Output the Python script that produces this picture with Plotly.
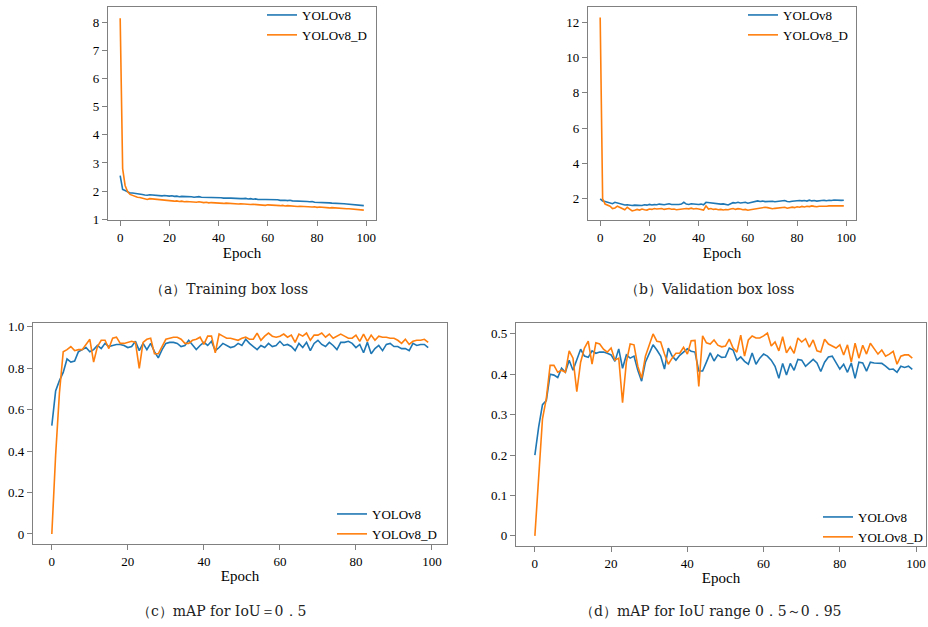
import plotly.graph_objects as go

epochs = list(range(100))

train_v8 = [2.55, 2.06, 2.02, 1.98, 1.93, 1.93, 1.92, 1.92, 1.90, 1.88,
            1.86, 1.85, 1.87, 1.86, 1.84, 1.85, 1.84, 1.83, 1.84, 1.82,
            1.82, 1.83, 1.81, 1.82, 1.80, 1.81, 1.81, 1.80, 1.79, 1.80,
            1.78, 1.79, 1.80, 1.78, 1.78, 1.77, 1.78, 1.77, 1.76, 1.77,
            1.76, 1.76, 1.75, 1.76, 1.75, 1.75, 1.74, 1.75, 1.74, 1.73,
            1.73, 1.74, 1.72, 1.73, 1.71, 1.72, 1.70, 1.71, 1.70, 1.70,
            1.70, 1.69, 1.69, 1.68, 1.69, 1.67, 1.68, 1.67, 1.66, 1.67,
            1.65, 1.65, 1.64, 1.65, 1.63, 1.64, 1.63, 1.62, 1.63, 1.60,
            1.60, 1.60, 1.59, 1.59, 1.58, 1.58, 1.57, 1.57, 1.56, 1.56,
            1.55, 1.55, 1.54, 1.53, 1.53, 1.52, 1.51, 1.50, 1.49, 1.48]
train_v8d = [8.15, 2.80, 2.20, 1.98, 1.88, 1.84, 1.80, 1.78, 1.77, 1.75,
             1.73, 1.70, 1.73, 1.72, 1.70, 1.69, 1.68, 1.68, 1.67, 1.66,
             1.64, 1.65, 1.64, 1.65, 1.63, 1.64, 1.62, 1.63, 1.62, 1.60,
             1.61, 1.60, 1.62, 1.60, 1.59, 1.60, 1.58, 1.59, 1.58, 1.57,
             1.58, 1.57, 1.56, 1.57, 1.56, 1.55, 1.56, 1.55, 1.54, 1.55,
             1.54, 1.53, 1.54, 1.52, 1.53, 1.52, 1.51, 1.52, 1.50, 1.49,
             1.51, 1.50, 1.49, 1.50, 1.49, 1.48, 1.49, 1.47, 1.48, 1.47,
             1.46, 1.47, 1.45, 1.46, 1.45, 1.44, 1.45, 1.44, 1.43, 1.44,
             1.42, 1.43, 1.42, 1.41, 1.42, 1.40, 1.41, 1.40, 1.39, 1.40,
             1.38, 1.38, 1.37, 1.37, 1.36, 1.35, 1.35, 1.34, 1.33, 1.32]

val_v8 = [2.00, 1.88, 1.85, 1.82, 1.78, 1.72, 1.80, 1.76, 1.72, 1.68,
          1.65, 1.66, 1.63, 1.62, 1.64, 1.63, 1.65, 1.62, 1.66, 1.64,
          1.68, 1.65, 1.67, 1.66, 1.70, 1.68, 1.66, 1.69, 1.72, 1.68,
          1.67, 1.70, 1.68, 1.70, 1.80, 1.70, 1.68, 1.72, 1.70, 1.69,
          1.68, 1.70, 1.66, 1.80, 1.78, 1.76, 1.74, 1.72, 1.73, 1.70,
          1.71, 1.68, 1.65, 1.72, 1.78, 1.76, 1.80, 1.76, 1.78, 1.80,
          1.75, 1.78, 1.80, 1.82, 1.88, 1.85, 1.87, 1.84, 1.86, 1.84,
          1.86, 1.83, 1.85, 1.87, 1.86, 1.90, 1.85, 1.83, 1.86, 1.88,
          1.87, 1.90, 1.88, 1.90, 1.87, 1.92, 1.88, 1.90, 1.87, 1.90,
          1.90, 1.91, 1.89, 1.92, 1.90, 1.93, 1.91, 1.92, 1.91, 1.92]
val_v8d = [12.25, 2.00, 1.70, 1.65, 1.58, 1.45, 1.48, 1.58, 1.52, 1.45,
           1.38, 1.52, 1.42, 1.32, 1.35, 1.40, 1.36, 1.42, 1.38, 1.36,
           1.42, 1.40, 1.45, 1.42, 1.44, 1.45, 1.40, 1.43, 1.45, 1.41,
           1.42, 1.38, 1.40, 1.44, 1.42, 1.45, 1.43, 1.47, 1.42, 1.45,
           1.42, 1.38, 1.36, 1.60, 1.42, 1.45, 1.40, 1.42, 1.38, 1.40,
           1.37, 1.39, 1.38, 1.42, 1.45, 1.40, 1.44, 1.42, 1.38, 1.40,
           1.35, 1.38, 1.40, 1.42, 1.45, 1.50, 1.48, 1.52, 1.50, 1.45,
           1.44, 1.46, 1.48, 1.50, 1.50, 1.52, 1.47, 1.50, 1.53, 1.50,
           1.55, 1.52, 1.57, 1.54, 1.58, 1.56, 1.60, 1.57, 1.55, 1.58,
           1.57, 1.60, 1.58, 1.60, 1.62, 1.60, 1.61, 1.60, 1.61, 1.60]

map50_v8 = [0.523, 0.69, 0.74, 0.78, 0.845, 0.83, 0.835, 0.88, 0.89, 0.90,
            0.88, 0.89, 0.91, 0.895, 0.92, 0.905, 0.91, 0.915, 0.915, 0.91,
            0.90, 0.905, 0.93, 0.885, 0.92, 0.89, 0.92, 0.88, 0.85, 0.89,
            0.92, 0.925, 0.925, 0.92, 0.905, 0.91, 0.935, 0.915, 0.89, 0.91,
            0.925, 0.91, 0.93, 0.885, 0.90, 0.92, 0.91, 0.90, 0.905, 0.92,
            0.91, 0.94, 0.92, 0.905, 0.89, 0.91, 0.90, 0.92, 0.905, 0.91,
            0.93, 0.91, 0.915, 0.905, 0.885, 0.92, 0.90, 0.925, 0.885, 0.92,
            0.935, 0.915, 0.905, 0.925, 0.91, 0.89, 0.925, 0.925, 0.93, 0.92,
            0.90, 0.915, 0.875, 0.925, 0.87, 0.895, 0.91, 0.885, 0.915, 0.92,
            0.905, 0.905, 0.895, 0.895, 0.885, 0.92, 0.91, 0.915, 0.915, 0.90]
map50_v8d = [0.0, 0.38, 0.68, 0.88, 0.89, 0.905, 0.885, 0.89, 0.89, 0.915,
             0.94, 0.83, 0.905, 0.935, 0.935, 0.895, 0.945, 0.95, 0.92, 0.92,
             0.925, 0.93, 0.925, 0.80, 0.925, 0.94, 0.945, 0.87, 0.87, 0.905,
             0.94, 0.945, 0.95, 0.95, 0.94, 0.92, 0.92, 0.935, 0.94, 0.95,
             0.915, 0.955, 0.955, 0.875, 0.965, 0.955, 0.945, 0.945, 0.94, 0.935,
             0.945, 0.95, 0.94, 0.94, 0.97, 0.935, 0.955, 0.97, 0.955, 0.95,
             0.955, 0.965, 0.95, 0.96, 0.925, 0.965, 0.955, 0.97, 0.935, 0.96,
             0.96, 0.97, 0.95, 0.965, 0.945, 0.955, 0.965, 0.955, 0.945, 0.945,
             0.96, 0.93, 0.965, 0.93, 0.96, 0.935, 0.955, 0.95, 0.95, 0.945,
             0.945, 0.935, 0.92, 0.94, 0.915, 0.93, 0.935, 0.935, 0.94, 0.925]

map5095_v8 = [0.20, 0.27, 0.325, 0.335, 0.40, 0.398, 0.392, 0.415, 0.405, 0.435,
              0.41, 0.435, 0.462, 0.445, 0.442, 0.458, 0.452, 0.455, 0.455, 0.452,
              0.448, 0.432, 0.463, 0.415, 0.448, 0.44, 0.445, 0.41, 0.383, 0.43,
              0.45, 0.473, 0.46, 0.445, 0.413, 0.465, 0.445, 0.435, 0.447, 0.455,
              0.463, 0.457, 0.455, 0.408, 0.408, 0.43, 0.453, 0.433, 0.448, 0.442,
              0.443, 0.465, 0.46, 0.435, 0.443, 0.432, 0.425, 0.453, 0.425, 0.44,
              0.45, 0.445, 0.435, 0.42, 0.39, 0.427, 0.398, 0.427, 0.41, 0.437,
              0.435, 0.42, 0.428, 0.437, 0.428, 0.407, 0.43, 0.443, 0.445, 0.43,
              0.413, 0.425, 0.405, 0.428, 0.39, 0.43, 0.428, 0.408, 0.43, 0.428,
              0.427, 0.427, 0.42, 0.412, 0.413, 0.405, 0.42, 0.417, 0.42, 0.412]
map5095_v8d = [0.0, 0.15, 0.29, 0.34, 0.422, 0.422, 0.405, 0.41, 0.405, 0.458,
               0.44, 0.357, 0.43, 0.465, 0.482, 0.425, 0.478, 0.475, 0.462, 0.455,
               0.465, 0.435, 0.44, 0.33, 0.43, 0.475, 0.473, 0.42, 0.39, 0.445,
               0.475, 0.50, 0.482, 0.48, 0.45, 0.425, 0.44, 0.452, 0.452, 0.467,
               0.45, 0.483, 0.484, 0.37, 0.495, 0.478, 0.475, 0.485, 0.472, 0.468,
               0.47, 0.487, 0.465, 0.455, 0.497, 0.445, 0.485, 0.495, 0.49, 0.49,
               0.495, 0.502, 0.47, 0.48, 0.458, 0.493, 0.453, 0.468, 0.452, 0.49,
               0.48, 0.488, 0.467, 0.485, 0.458, 0.455, 0.487, 0.475, 0.47, 0.465,
               0.473, 0.448, 0.473, 0.43, 0.477, 0.44, 0.472, 0.45, 0.477, 0.465,
               0.45, 0.46, 0.445, 0.45, 0.457, 0.425, 0.445, 0.448, 0.448, 0.44]

series_names = ["YOLOv8", "YOLOv8_D"]
captions = ["（a）Training box loss", "（b）Validation box loss",
            "（c）mAP for IoU＝0．5", "（d）mAP for IoU range 0．5～0．95"]
y_ticks = [[1, 2, 3, 4, 5, 6, 7, 8], [2, 4, 6, 8, 10, 12],
           [0, 0.2, 0.4, 0.6, 0.8, 1.0], [0, 0.1, 0.2, 0.3, 0.4, 0.5]]
y_ticktext = [["1", "2", "3", "4", "5", "6", "7", "8"],
              ["2", "4", "6", "8", "10", "12"],
              ["0", "0.2", "0.4", "0.6", "0.8", "1.0"],
              ["0", "0.1", "0.2", "0.3", "0.4", "0.5"]]
x_ticks = [0, 20, 40, 60, 80, 100]

panels = [(train_v8, train_v8d), (val_v8, val_v8d),
          (map50_v8, map50_v8d), (map5095_v8, map5095_v8d)]

W, H = 928, 627


def px(x):
    return x / W


def py(y):
    return 1 - y / H


def clamp(v):
    return min(1.0, max(0.0, v))


# plot-area boxes in pixels (left, right, top, bottom)
boxes = [(108, 376, 7, 220), (588, 856, 7, 220),
         (33, 447, 323, 544), (516, 926, 323, 546)]
y_ranges = [[0.97, 8.55], [0.8, 12.85], [-0.0485, 1.0185], [-0.025, 0.527]]
x_ranges = [[-4.95, 103.95], [-4.95, 103.95], [-4.95, 103.95], [-4.95, 102.6]]
# legend anchors in pixels: (x, y, xanchor)
legend_pos = [(262, 0, "left"), (743, 0, "left"), (332, 499, "left"), (928, 502, "right")]
caption_pos = [(229, 289), (709, 289), (221, 611), (710, 611)]

colors = ["#1f77b4", "#ff7f0e"]
FONT = "Liberation Serif, DejaVu Serif, serif"
CAPFONT = "DejaVu Serif, Liberation Serif, serif"
GREY = "#808080"

fig = go.Figure()
layout = dict(width=W, height=H, margin=dict(l=0, r=0, t=0, b=0, autoexpand=False),
              paper_bgcolor="white", plot_bgcolor="white",
              font=dict(family=FONT, size=13, color="black"),
              annotations=[])

for i, (s1, s2) in enumerate(panels):
    k = "" if i == 0 else str(i + 1)
    leg = "legend" if i == 0 else f"legend{i + 1}"
    for name, vals, c in zip(series_names, (s1, s2), colors):
        fig.add_trace(go.Scatter(x=epochs, y=vals, mode="lines", name=name,
                                 line=dict(color=c, width=1.6),
                                 xaxis=f"x{k}", yaxis=f"y{k}", legend=leg))
    l, r, t, b = boxes[i]
    axis_common = dict(showline=True, linecolor=GREY, linewidth=1.3, mirror=True,
                       showgrid=False, zeroline=False, ticks="outside",
                       ticklen=5, tickcolor=GREY, tickfont=dict(size=13, family=FONT),
                       automargin=False)
    layout[f"xaxis{k}"] = dict(domain=[clamp(px(l)), clamp(px(r))], range=x_ranges[i],
                               anchor=f"y{k}", tickvals=x_ticks,
                               title=dict(text="Epoch", font=dict(size=15, family=FONT),
                                          standoff=2),
                               **axis_common)
    layout[f"yaxis{k}"] = dict(domain=[clamp(py(b)), clamp(py(t))], range=y_ranges[i],
                               anchor=f"x{k}", tickvals=y_ticks[i],
                               ticktext=y_ticktext[i], **axis_common)
    lx, ly, xa = legend_pos[i]
    layout[leg] = dict(x=px(lx), y=py(ly), xanchor=xa, yanchor="top",
                       bgcolor="rgba(0,0,0,0)", borderwidth=0,
                       font=dict(size=13, family=FONT), itemwidth=30,
                       tracegroupgap=0)
    cx, cy = caption_pos[i]
    layout["annotations"].append(dict(text=captions[i], x=px(cx), y=py(cy),
                                      xref="paper", yref="paper", showarrow=False,
                                      xanchor="center", yanchor="middle",
                                      font=dict(size=14, family=CAPFONT, color="#222")))

fig.update_layout(**layout)
fig.write_html("out.html",
               config={"displayModeBar": False},
               post_script="document.body.style.margin='0';"
                           "document.body.style.overflow='hidden';"
                           "document.documentElement.style.overflow='hidden';")
